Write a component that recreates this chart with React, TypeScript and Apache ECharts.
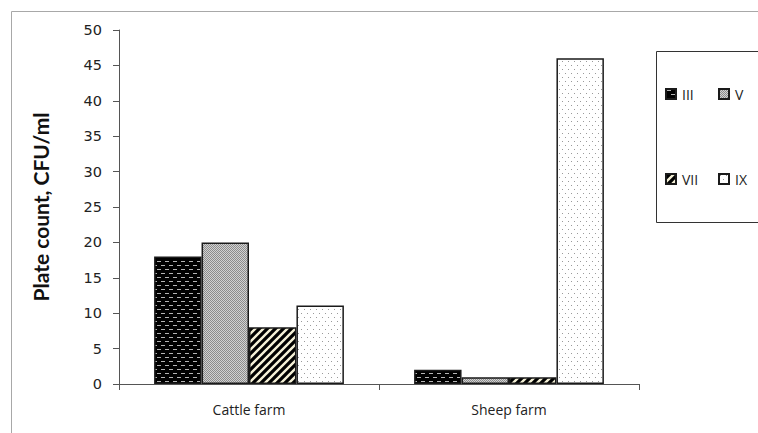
import React, { useEffect, useRef } from "react";
import * as echarts from "echarts";

const categories = ["Cattle farm", "Sheep farm"];
const seriesNames = ["III", "V", "VII", "IX"];
const valuesIII = [18, 2];
const valuesV = [20, 0.95];
const valuesVII = [8, 0.95];
const valuesIX = [11.1, 46];
const yTicks = { min: 0, max: 50, interval: 5 };

function makeTile(w: number, h: number, draw: (ctx: CanvasRenderingContext2D) => void) {
  const c = document.createElement("canvas");
  c.width = w;
  c.height = h;
  const ctx = c.getContext("2d")!;
  draw(ctx);
  return c;
}

function patterns() {
  const pIII = makeTile(8, 8, (ctx) => {
    ctx.fillStyle = "#000";
    ctx.fillRect(0, 0, 8, 8);
    ctx.fillStyle = "#b4b4b4";
    ctx.fillRect(1, 1, 4, 1);
    ctx.fillRect(5, 5, 3, 1);
    ctx.fillRect(0, 5, 1, 1);
  });
  const pV = makeTile(2, 2, (ctx) => {
    ctx.fillStyle = "#d2d2d2";
    ctx.fillRect(0, 0, 2, 2);
    ctx.fillStyle = "#8c8c8c";
    ctx.fillRect(0, 0, 1, 1);
    ctx.fillRect(1, 1, 1, 1);
  });
  const pVII = makeTile(8, 8, (ctx) => {
    ctx.fillStyle = "#000";
    ctx.fillRect(0, 0, 8, 8);
    ctx.strokeStyle = "#f4f0d6";
    ctx.lineWidth = 2.4;
    ctx.beginPath();
    ctx.moveTo(-2, 10);
    ctx.lineTo(10, -2);
    ctx.moveTo(-6, 6);
    ctx.lineTo(6, -6);
    ctx.moveTo(2, 14);
    ctx.lineTo(14, 2);
    ctx.stroke();
  });
  const pIX = makeTile(6, 8, (ctx) => {
    ctx.fillStyle = "#fff";
    ctx.fillRect(0, 0, 6, 8);
    ctx.fillStyle = "#9a9a9a";
    ctx.fillRect(1, 1, 1, 1);
    ctx.fillRect(4, 5, 1, 1);
  });
  return [pIII, pV, pVII, pIX];
}

export default function App() {
  const ref = useRef<HTMLDivElement>(null);
  useEffect(() => {
    if (!ref.current) return;
    const chart = echarts.init(ref.current, undefined, { renderer: "svg" });
    const pats = patterns();
    const values = [valuesIII, valuesV, valuesVII, valuesIX];
    const font = "Open Sans";
    const legendPos = [
      { left: 665, top: 87 },
      { left: 718, top: 87 },
      { left: 665, top: 172 },
      { left: 718, top: 172 },
    ];
    chart.setOption({
      animation: false,
      backgroundColor: "#fff",
      textStyle: { fontFamily: font },
      grid: { left: 119, right: 119, top: 30, bottom: 49 },
      legend: seriesNames.map((n, i) => ({
        data: [n],
        left: legendPos[i].left,
        top: legendPos[i].top,
        padding: 0,
        itemWidth: 10,
        itemHeight: 10,
        itemGap: 0,
        icon: "rect",
        textStyle: { fontFamily: font, fontSize: 14, color: "#222", padding: [0, 0, 0, 1] },
      })),
      xAxis: {
        type: "category",
        data: categories,
        axisLine: { lineStyle: { color: "#555", width: 1 } },
        axisTick: { show: true, length: 6, lineStyle: { color: "#555" } },
        axisLabel: { fontFamily: font, fontSize: 14, color: "#222", margin: 18 },
      },
      yAxis: {
        type: "value",
        min: yTicks.min,
        max: yTicks.max,
        interval: yTicks.interval,
        name: "Plate count, CFU/ml",
        nameLocation: "middle",
        nameGap: 68,
        nameTextStyle: { fontFamily: "Lato", fontSize: 21, fontWeight: "bold", color: "#111" },
        axisLine: { show: true, lineStyle: { color: "#555", width: 1 } },
        axisTick: { show: true, length: 6, lineStyle: { color: "#555" } },
        axisLabel: { fontFamily: "DejaVu Sans", fontSize: 14.5, color: "#222", margin: 17 },
        splitLine: { show: false },
      },
      series: seriesNames.map((n, i) => ({
        name: n,
        type: "bar",
        data: values[i],
        barGap: "0%",
        barCategoryGap: "27%",
        itemStyle: {
          color: { image: pats[i], repeat: "repeat" },
          borderColor: "#1a1a1a",
          borderWidth: 1.5,
        },
      })),
      graphic: [
        {
          type: "rect",
          shape: { x: 11.5, y: 11.5, width: 800, height: 500 },
          style: { fill: "none", stroke: "#a8a8a8", lineWidth: 1 },
          silent: true,
        },
        {
          type: "rect",
          shape: { x: 656.5, y: 51.5, width: 200, height: 171 },
          style: { fill: "none", stroke: "#333", lineWidth: 1 },
          silent: true,
        },
      ],
    });
    return () => chart.dispose();
  }, []);
  return <div ref={ref} style={{ width: 758, height: 433, position: "absolute", left: 0, top: 0 }} />;
}
